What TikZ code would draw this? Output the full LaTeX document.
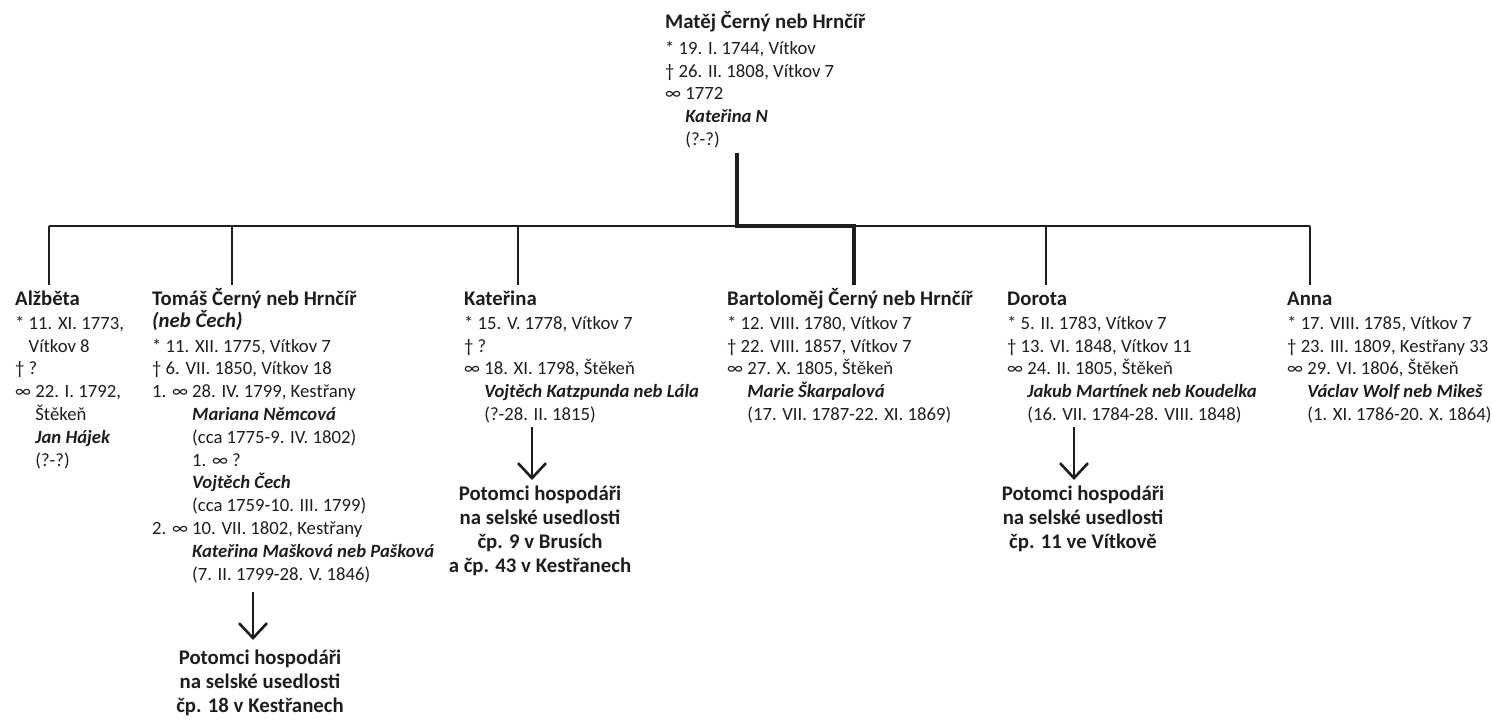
\documentclass[tikz,border=0pt]{standalone}
\usepackage{fontspec}
\setmainfont{Carlito}
\usetikzlibrary{arrows.meta}
\definecolor{txt}{HTML}{1E1E1E}
\newcommand\bodyfnt{\fontsize{18.7pt}{22.8pt}\selectfont}
\newcommand\ttl[1]{{\fontsize{20.8pt}{22.8pt}\selectfont\bfseries #1}}
\newcommand\bi[1]{\textbf{\textit{#1}}}
\newcommand\ind[1]{\hphantom{#1}}
\tikzset{
  person/.style={anchor=base west, align=left, inner sep=0pt, text=txt, font=\bodyfnt},
  desc/.style={anchor=base, align=center, inner sep=0pt, text=txt,
    font={\fontsize{20.8pt}{24pt}\selectfont\bfseries}},
  thinline/.style={line width=1.4pt, draw=txt},
  thickline/.style={line width=4pt, draw=txt, line join=miter},
  arr/.style={line width=2.6pt, draw=txt, -{Straight Barb[length=15pt,width=28pt]}}
}
\begin{document}
\begin{tikzpicture}[x=1pt,y=-1pt]
\useasboundingbox (0,0) rectangle (1492,720);

% node positions are the baselines of the LAST line of each block
\node[person] (mat) at (665,145.5) {\ttl{Matěj Černý neb Hrnčíř}\\[3.5pt]
* 19. I. 1744, Vítkov\\
† 26. II. 1808, Vítkov 7\\
∞ 1772\\
\ind{∞ }\bi{Kateřina N}\\
\ind{∞ }(?-?)};

\node[person] (alz) at (15,466.1) {\ttl{Alžběta}\\[1.5pt]
* 11. XI. 1773,\\
\ind{* }Vítkov 8\\
† ?\\
∞ 22. I. 1792,\\
\ind{∞ }Štěkeň\\
\ind{∞ }\bi{Jan Hájek}\\
\ind{∞ }(?-?)};

\node[person] (tom) at (152,580.1) {\ttl{Tomáš Černý neb Hrnčíř}\\
\ttl{\itshape (neb Čech)}\\[1.5pt]
* 11. XII. 1775, Vítkov 7\\
† 6. VII. 1850, Vítkov 18\\
1. ∞ 28. IV. 1799, Kestřany\\
\ind{1. ∞ }\bi{Mariana Němcová}\\
\ind{1. ∞ }(cca 1775-9. IV. 1802)\\
\ind{1. ∞ }1. ∞ ?\\
\ind{1. ∞ }\bi{Vojtěch Čech}\\
\ind{1. ∞ }(cca 1759-10. III. 1799)\\
2. ∞ 10. VII. 1802, Kestřany\\
\ind{2. ∞ }\bi{Kateřina Mašková neb Pašková}\\
\ind{2. ∞ }(7. II. 1799-28. V. 1846)};

\node[person] (kat) at (464,420.5) {\ttl{Kateřina}\\[1.5pt]
* 15. V. 1778, Vítkov 7\\
† ?\\
∞ 18. XI. 1798, Štěkeň\\
\ind{∞ }\bi{Vojtěch Katzpunda neb Lála}\\
\ind{∞ }(?-28. II. 1815)};

\node[person] (bar) at (727,420.5) {\ttl{Bartoloměj Černý neb Hrnčíř}\\[1.5pt]
* 12. VIII. 1780, Vítkov 7\\
† 22. VIII. 1857, Vítkov 7\\
∞ 27. X. 1805, Štěkeň\\
\ind{∞ }\bi{Marie Škarpalová}\\
\ind{∞ }(17. VII. 1787-22. XI. 1869)};

\node[person] (dor) at (1007,420.5) {\ttl{Dorota}\\[1.5pt]
* 5. II. 1783, Vítkov 7\\
† 13. VI. 1848, Vítkov 11\\
∞ 24. II. 1805, Štěkeň\\
\ind{∞ }\bi{Jakub Martínek neb Koudelka}\\
\ind{∞ }(16. VII. 1784-28. VIII. 1848)};

\node[person] (ann) at (1287,420.5) {\ttl{Anna}\\[1.5pt]
* 17. VIII. 1785, Vítkov 7\\
† 23. III. 1809, Kestřany 33\\
∞ 29. VI. 1806, Štěkeň\\
\ind{∞ }\bi{Václav Wolf neb Mikeš}\\
\ind{∞ }(1. XI. 1786-20. X. 1864)};

\node[desc] (dtom) at (260,712) {Potomci hospodáři\\na selské usedlosti\\čp. 18 v Kestřanech};
\node[desc] (dkat) at (540,572) {Potomci hospodáři\\na selské usedlosti\\čp. 9 v Brusích\\a čp. 43 v Kestřanech};
\node[desc] (ddor) at (1083,548) {Potomci hospodáři\\na selské usedlosti\\čp. 11 ve Vítkově};

% bus coordinates
\coordinate (top) at (737,153);
\coordinate (busL) at (49,226);
\coordinate (busR) at (1310,226);
\coordinate (bA) at (49,226);   \coordinate (eA) at (49,285);
\coordinate (bT) at (232,226);  \coordinate (eT) at (232,285);
\coordinate (bK) at (518,226);  \coordinate (eK) at (518,285);
\coordinate (bM) at (737,226);
\coordinate (bB) at (854,226);  \coordinate (eB) at (854,285);
\coordinate (bD) at (1046,226); \coordinate (eD) at (1046,285);
\coordinate (bN) at (1310,226); \coordinate (eN) at (1310,285);

\draw[thinline] (busL) -- (busR);
\draw[thinline] (bA) -- (eA);
\draw[thinline] (bT) -- (eT);
\draw[thinline] (bK) -- (eK);
\draw[thinline] (bD) -- (eD);
\draw[thinline] (bN) -- (eN);
\draw[thickline] (top) -- (bM) -- (bB) -- (eB);

% arrows to descendants
\coordinate (aT1) at (253,592); \coordinate (aT2) at (253,640);
\coordinate (aK1) at (532,427); \coordinate (aK2) at (532,480);
\coordinate (aD1) at (1074,427); \coordinate (aD2) at (1074,480);
\draw[arr] (aT1) -- (aT2);
\draw[arr] (aK1) -- (aK2);
\draw[arr] (aD1) -- (aD2);
\end{tikzpicture}
\end{document}
